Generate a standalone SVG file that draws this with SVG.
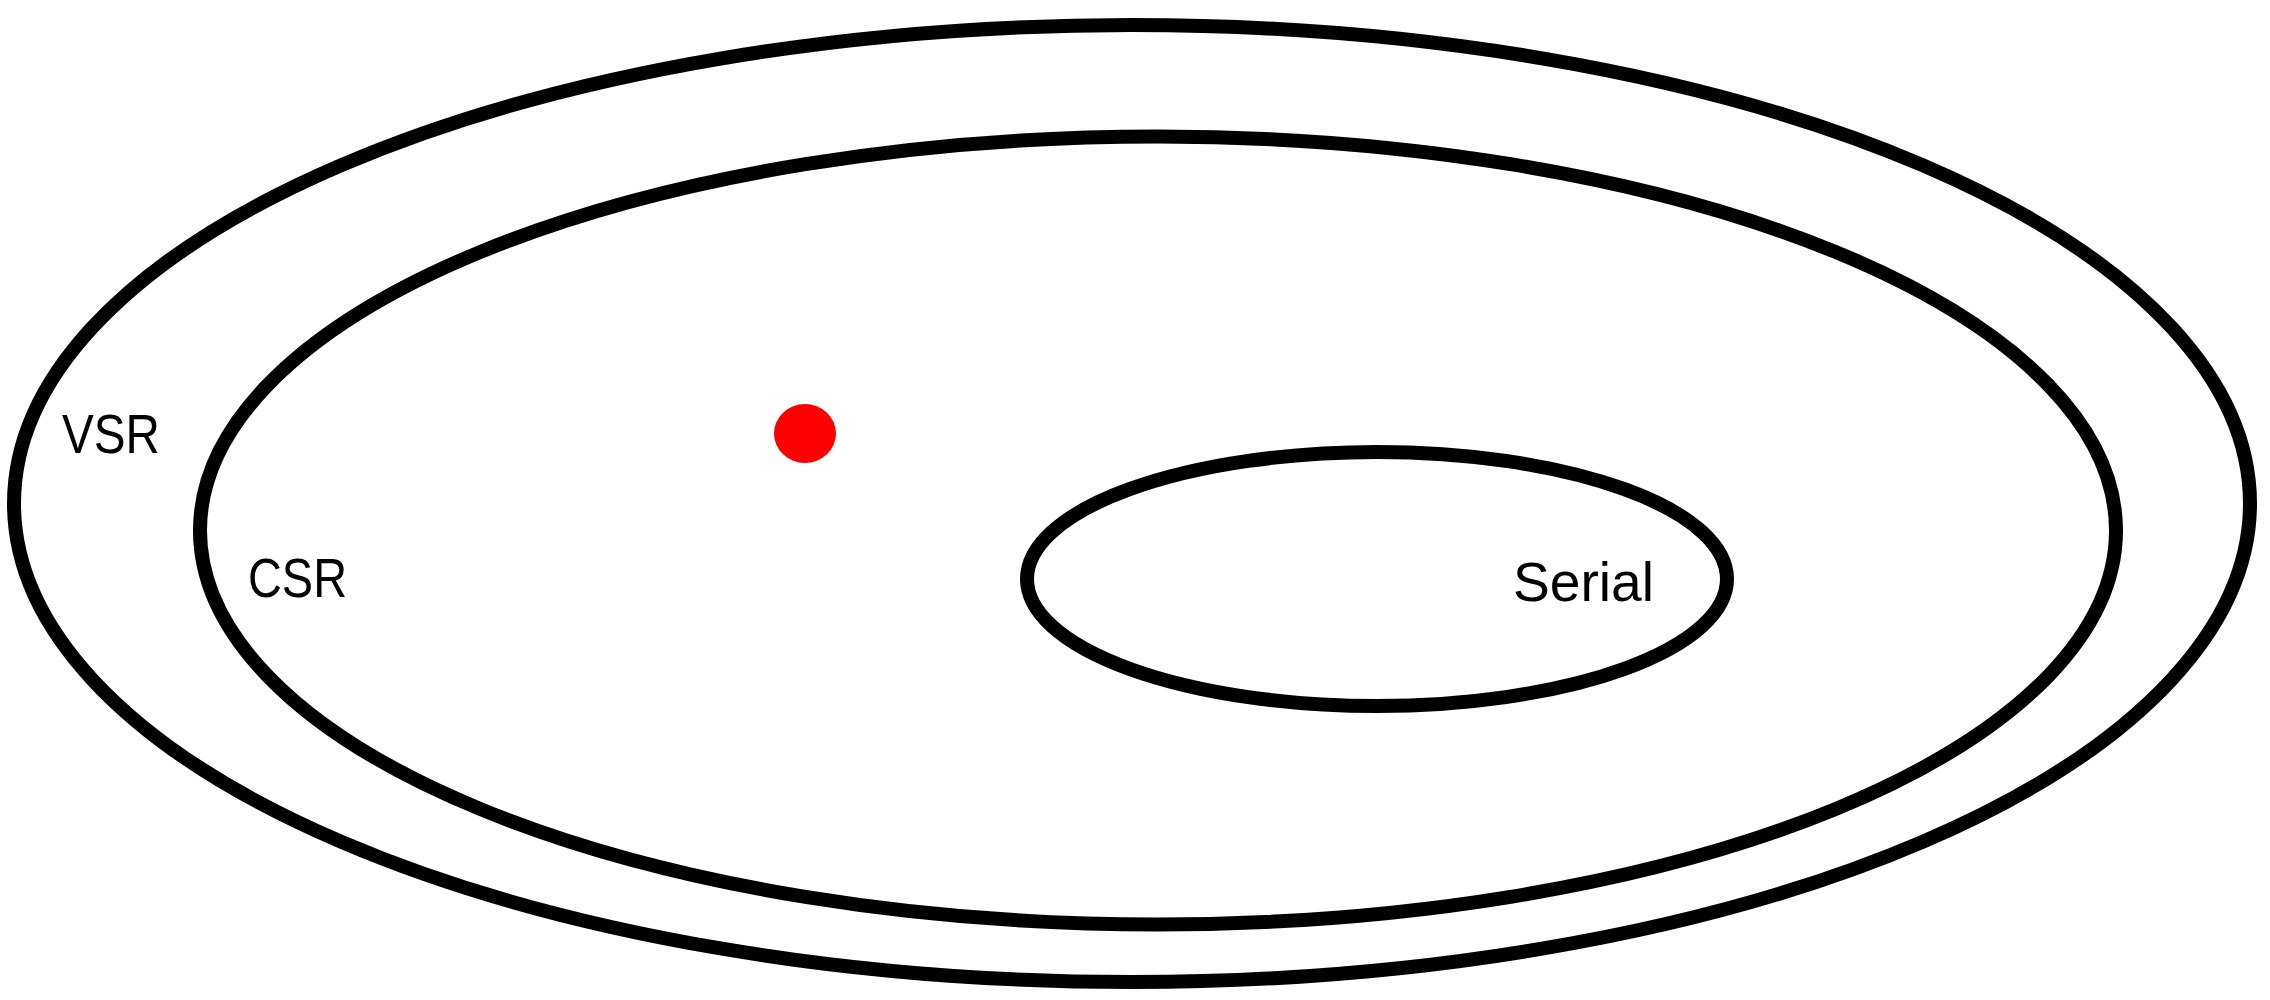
<svg xmlns="http://www.w3.org/2000/svg" width="2270" height="1000" viewBox="0 0 2270 1000">
  <style>
    .ring { fill: none; stroke: #000; stroke-width: 14; }
    .lbl { font-family: "Liberation Sans", Arial, sans-serif; font-size: 55px; fill: #000; }
  </style>
  <rect width="2270" height="1000" fill="#fff"/>
  <g id="vsr">
    <ellipse class="ring" cx="1132" cy="503.5" rx="1118" ry="478.5"/>
    <text class="lbl" x="62" y="453" textLength="98" lengthAdjust="spacingAndGlyphs">VSR</text>
  </g>
  <g id="csr">
    <ellipse class="ring" cx="1158" cy="530.5" rx="958" ry="394"/>
    <text class="lbl" x="248" y="597" textLength="99" lengthAdjust="spacingAndGlyphs">CSR</text>
  </g>
  <g id="serial">
    <ellipse class="ring" cx="1377" cy="579" rx="350" ry="127"/>
    <text class="lbl" x="1513" y="601" textLength="141" lengthAdjust="spacingAndGlyphs">Serial</text>
  </g>
  <g id="point">
    <ellipse cx="805" cy="433.5" rx="31" ry="29.5" fill="#ff0000"/>
  </g>
  <g id="connectors"></g>
</svg>
